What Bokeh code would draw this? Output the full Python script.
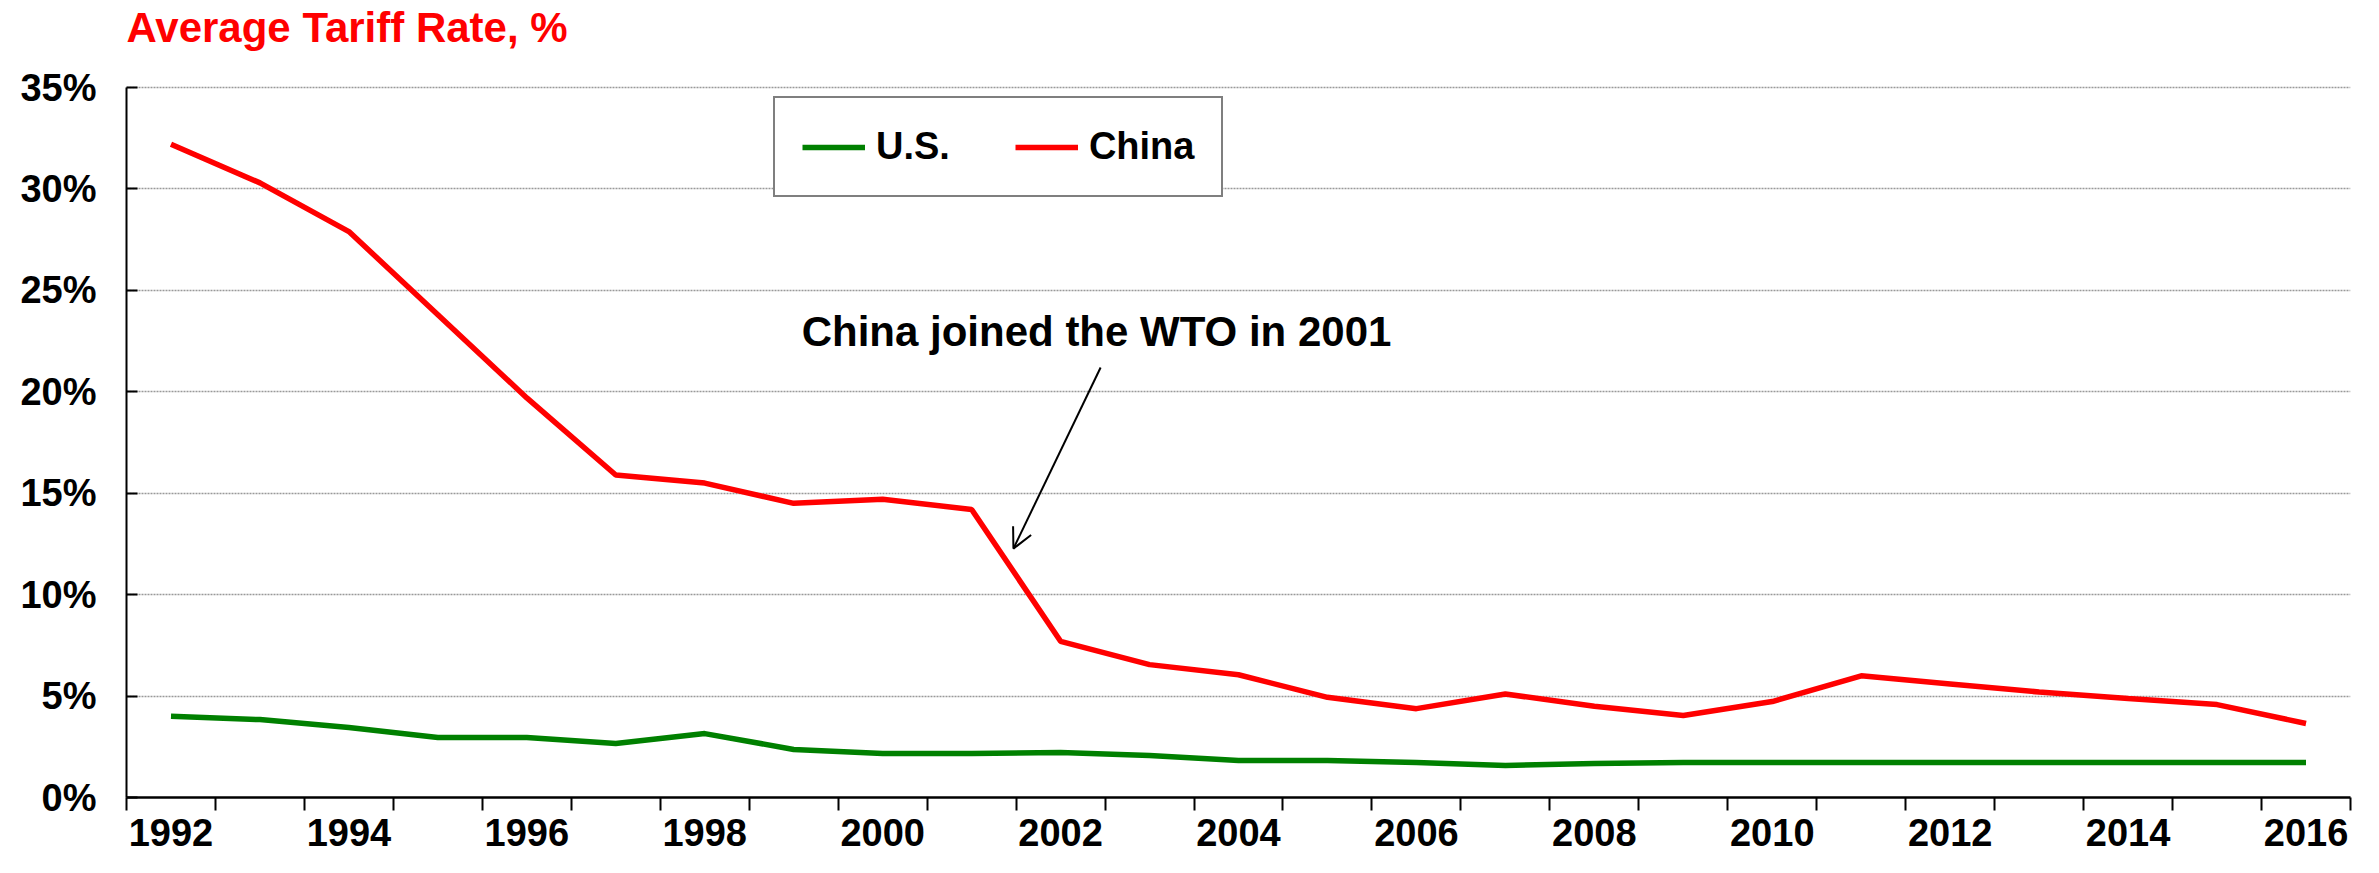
from bokeh.plotting import figure
from bokeh.models import (FixedTicker, PrintfTickFormatter, Legend, LegendItem,
                          Label, Arrow, OpenHead, Range1d)
from bokeh.embed import file_html
from bokeh.resources import INLINE

years = list(range(1992, 2017))
us = [4.0, 3.84, 3.45, 2.96, 2.96, 2.66, 3.15, 2.37, 2.17, 2.17, 2.22, 2.07, 1.82,
      1.82, 1.73, 1.58, 1.68, 1.73, 1.73, 1.73, 1.73, 1.73, 1.73, 1.73, 1.73]
china = [32.2, 30.3, 27.9, 23.8, 19.7, 15.9, 15.5, 14.5, 14.7, 14.2, 7.7, 6.55, 6.05,
         4.94, 4.38, 5.1, 4.5, 4.04, 4.73, 6.0, 5.6, 5.2, 4.88, 4.58, 3.65]
x_tick_labels = list(range(1992, 2017, 2))
y_ticks = [0, 5, 10, 15, 20, 25, 30, 35]
series_names = ["U.S.", "China"]
title_text = "Average Tariff Rate, %"
note_text = "China joined the WTO in 2001"

FONT = "Liberation Sans"

# frame extends to the top of the canvas so the title can sit inside it;
# the y axis itself is bounded to 0..35
p = figure(width=2379, height=873, output_backend="svg", toolbar_location=None,
           x_range=Range1d(1991.5, 2016.5), y_range=Range1d(0, 39.29),
           min_border_left=126, min_border_right=29, min_border_top=0,
           min_border_bottom=76)
p.outline_line_color = None
p.background_fill_color = "white"
p.border_fill_color = "white"

# grid
p.xgrid.grid_line_color = None
p.ygrid.ticker = FixedTicker(ticks=y_ticks)
p.ygrid.grid_line_color = "#999999"
p.ygrid.grid_line_width = 1.5
p.ygrid.grid_line_dash = "2 1"

# x axis
xa = p.xaxis[0]
xa.ticker = FixedTicker(ticks=x_tick_labels, minor_ticks=[y - 0.5 for y in years] + [2016.5])
xa.major_tick_out = 0
xa.major_tick_in = 0
xa.minor_tick_out = 13
xa.minor_tick_in = 0
xa.minor_tick_line_color = "black"
xa.minor_tick_line_width = 2
xa.axis_line_color = "black"
xa.axis_line_width = 2.5
xa.major_label_text_font = FONT
xa.major_label_text_font_size = "38px"
xa.major_label_text_font_style = "bold"
xa.major_label_text_color = "black"
xa.major_label_standoff = 8

# y axis
ya = p.yaxis[0]
ya.ticker = FixedTicker(ticks=y_ticks, minor_ticks=[])
ya.formatter = PrintfTickFormatter(format="%d%%")
ya.bounds = (0, 35)
ya.major_tick_in = 11
ya.major_tick_out = 0
ya.major_tick_line_color = "black"
ya.major_tick_line_width = 2
ya.axis_line_color = "black"
ya.axis_line_width = 2
ya.major_label_text_font = FONT
ya.major_label_text_font_size = "38px"
ya.major_label_text_font_style = "bold"
ya.major_label_text_color = "black"
ya.major_label_standoff = 30

r_us = p.line(years, us, line_color="#008000", line_width=5.5)
r_cn = p.line(years, china, line_color="#ff0000", line_width=5.5)

legend = Legend(items=[LegendItem(label=series_names[0], renderers=[r_us]),
                       LegendItem(label=series_names[1], renderers=[r_cn])],
                orientation="horizontal", location=(647, 600),
                label_text_font=FONT, label_text_font_size="38px",
                label_text_font_style="bold", label_text_color="black",
                glyph_width=63, glyph_height=30, label_standoff=11, spacing=65,
                padding=27, margin=0, border_line_color="black",
                border_line_width=2, background_fill_alpha=1)
p.add_layout(legend, "center")

title = Label(x=1991.5, y=37.96, text=title_text, text_font=FONT,
              text_font_size="42px", text_font_style="bold", text_color="#ff0000",
              text_baseline="middle", text_align="left")
p.add_layout(title)

note = Label(x=1999.09, y=22.97, text=note_text, text_font=FONT,
             text_font_size="42px", text_font_style="bold", text_color="black",
             text_baseline="middle", text_align="left")
p.add_layout(note)
p.add_layout(Arrow(x_start=2002.45, y_start=21.2, x_end=2001.47, y_end=12.27,
                   line_color="black", line_width=2,
                   end=OpenHead(size=20, line_color="black", line_width=2)))

open("out.html", "w").write(file_html(p, INLINE))
